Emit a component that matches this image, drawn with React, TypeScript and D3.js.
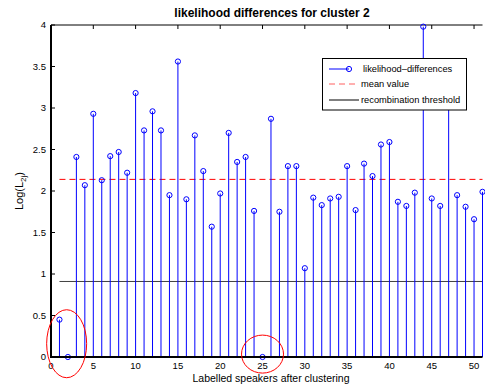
import React from "react";
import * as d3 from "d3";

const speakers = d3.range(1, 52);
const likelihoodDiff = [
  0.45, 0.0, 2.41, 2.07, 2.93, 2.13, 2.42, 2.47, 2.22, 3.18,
  2.73, 2.96, 2.73, 1.95, 3.56, 1.9, 2.67, 2.24, 1.57, 1.97,
  2.7, 2.35, 2.41, 1.76, 0.0, 2.87, 1.75, 2.3, 2.3, 1.07,
  1.92, 1.83, 1.91, 1.93, 2.3, 1.77, 2.33, 2.18, 2.56, 2.59,
  1.87, 1.82, 1.98, 3.98, 1.91, 1.82, 3.3, 1.95, 1.81, 1.66,
  1.99,
];
const meanValue = 2.14;
const threshold = 0.91;
const xTicks = [0, 5, 10, 15, 20, 25, 30, 35, 40, 45, 50];
const yTicks = [0, 0.5, 1, 1.5, 2, 2.5, 3, 3.5, 4];
const legendLabels = ["likelihood\u2013differences", "mean value", "recombination threshold"];
const highlighted = [
  { cx: 1.85, cy: 0.16, rx: 20, ry: 34 },
  { cx: 25, cy: 0.035, rx: 21, ry: 19 },
];

const W = 485;
const H = 389;
const font = "'Liberation Sans', Arial, Helvetica, sans-serif";

export default function App() {
  const x = d3.scaleLinear().domain([0, 51]).range([51, 482.5]);
  const y = d3.scaleLinear().domain([0, 4]).range([357, 25]);
  const blue = "#0000ff";

  return (
    <svg
      width={W}
      height={H}
      style={{ position: "absolute", left: 0, top: 0, background: "#fff" }}
      fontFamily={font}
    >
      <rect x={0} y={0} width={W} height={H} fill="#fff" />
      {/* top border */}
      <line x1={x(0)} x2={x(51)} y1={y(4)} y2={y(4)} stroke="#000" strokeWidth={1} />
      {/* x top ticks */}
      {xTicks.map((t) => (
        <line key={"xt" + t} x1={x(t)} x2={x(t)} y1={y(4)} y2={y(4) + 4} stroke="#000" />
      ))}
      {/* y ticks */}
      {yTicks.map((t) => (
        <g key={"yt" + t}>
          <line x1={x(0)} x2={x(0) + 4} y1={y(t)} y2={y(t)} stroke="#000" />
          <text x={46} y={y(t)} dy="0.35em" textAnchor="end" fontSize={9.5}>
            {String(t)}
          </text>
        </g>
      ))}
      {/* threshold */}
      <line x1={x(1)} x2={x(51)} y1={y(threshold)} y2={y(threshold)} stroke="#404040" strokeWidth={1} />
      {/* mean */}
      <line
        x1={x(1)}
        x2={x(51)}
        y1={y(meanValue)}
        y2={y(meanValue)}
        stroke="#ff0000"
        strokeWidth={1}
        strokeDasharray="6,4"
      />
      {/* stems */}
      {speakers.map((s, i) => (
        <g key={"s" + s}>
          <line x1={x(s)} x2={x(s)} y1={y(0)} y2={y(likelihoodDiff[i])} stroke={blue} strokeWidth={1} />
          <circle cx={x(s)} cy={y(likelihoodDiff[i])} r={2.6} fill="none" stroke={blue} strokeWidth={1} />
        </g>
      ))}
      {/* axes */}
      <line x1={x(0)} x2={x(0)} y1={y(4)} y2={y(0) + 1} stroke="#000" strokeWidth={2} />
      <line x1={x(0) - 1} x2={x(51)} y1={y(0)} y2={y(0)} stroke="#000" strokeWidth={2} />
      {xTicks.map((t) => (
        <text key={"xl" + t} x={x(t)} y={369} textAnchor="middle" fontSize={9.5}>
          {String(t)}
        </text>
      ))}
      {/* highlight ellipses */}
      {highlighted.map((h, i) => (
        <ellipse key={"h" + i} cx={x(h.cx)} cy={y(h.cy)} rx={h.rx} ry={h.ry} fill="none" stroke="#ff0000" strokeWidth={1} />
      ))}
      {/* legend */}
      <g>
        <rect x={322.5} y={58.5} width={144} height={51.5} fill="#fff" stroke="#000" strokeWidth={1} />
        <line x1={329} x2={349} y1={69} y2={69} stroke={blue} />
        <circle cx={349} cy={69} r={2.6} fill="none" stroke={blue} />
        <text x={363} y={69} dy="0.35em" fontSize={9.3}>{legendLabels[0]}</text>
        <line x1={329} x2={359} y1={84} y2={84} stroke="#ff6060" strokeDasharray="6,4" />
        <text x={361} y={84} dy="0.35em" fontSize={9.3}>{legendLabels[1]}</text>
        <line x1={329} x2={359} y1={100} y2={100} stroke="#000" />
        <text x={361} y={100} dy="0.35em" fontSize={9.3}>{legendLabels[2]}</text>
      </g>
      {/* title */}
      <text x={272} y={16.5} textAnchor="middle" fontSize={12} fontWeight="bold">
        likelihood differences for cluster 2
      </text>
      {/* x label */}
      <text x={271} y={382} textAnchor="middle" fontSize={10.5}>
        Labelled speakers after clustering
      </text>
      {/* y label */}
      <text transform="translate(23,191) rotate(-90)" textAnchor="middle" fontSize={11}>
        Log(L
        <tspan fontSize={8} dy={3}>2j</tspan>
        <tspan dy={-3}>)</tspan>
      </text>
    </svg>
  );
}
